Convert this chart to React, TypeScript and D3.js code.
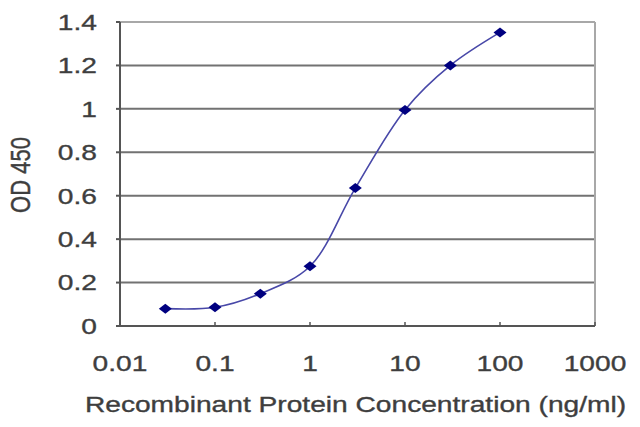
import * as d3 from 'd3';
import * as React from 'react';

// concentration (ng/ml) and OD 450 readings
const concentrations: number[] = [0.03, 0.1, 0.3, 1, 3, 10, 30, 100];
const odValues: number[] = [0.08, 0.086, 0.149, 0.275, 0.635, 0.995, 1.2, 1.352];

const xTicks: number[] = [0.01, 0.1, 1, 10, 100, 1000];
const xTickLabels: string[] = ['0.01', '0.1', '1', '10', '100', '1000'];
const yTicks: number[] = [0, 0.2, 0.4, 0.6, 0.8, 1, 1.2, 1.4];
const yTickLabels: string[] = ['0', '0.2', '0.4', '0.6', '0.8', '1', '1.2', '1.4'];

const width = 640;
const height = 427;
const margin = { top: 22, right: 45, bottom: 101, left: 120 };

// the picture is stretched sideways, so the text is too
const sx = 1.28;
const font = 'Liberation Sans, Arial, sans-serif';
const textColor = '#3e3e3e';

export default function App() {
  const x = d3.scaleLog().domain([0.01, 1000]).range([margin.left, width - margin.right]);
  const y = d3.scaleLinear().domain([0, 1.4]).range([height - margin.bottom, margin.top]);

  const pts: [number, number][] = concentrations.map((c, i) => [x(c), y(odValues[i])]);
  const line = d3.line().curve(d3.curveCatmullRom.alpha(0.5))(pts) || '';

  const x0 = margin.left;
  const x1 = width - margin.right;
  const y0 = height - margin.bottom;
  const y1 = margin.top;

  const txt = { fontFamily: font, fontSize: 22, fill: textColor, stroke: textColor, strokeWidth: 0.35 };

  return (
    <svg width={width} height={height}
      style={{ position: 'absolute', left: 0, top: 0, background: '#fff' }}>
      {/* gridlines */}
      {yTicks.filter(t => t > 0 && t < 1.4).map(t => (
        <line key={'g' + t} x1={x0} x2={x1} y1={y(t)} y2={y(t)} stroke="#727272" strokeWidth={2} />
      ))}
      {/* frame: top and right lighter */}
      <line x1={x0} x2={x1} y1={y1} y2={y1} stroke="#a8a8a8" strokeWidth={2} />
      <line x1={x1} x2={x1} y1={y1} y2={y0} stroke="#a8a8a8" strokeWidth={2} />
      <line x1={x0} x2={x1} y1={y0} y2={y0} stroke="#555" strokeWidth={2} />
      <line x1={x0} x2={x0} y1={y1} y2={y0} stroke="#555" strokeWidth={2} />
      {/* y ticks */}
      {yTicks.map(t => (
        <line key={'yt' + t} x1={x0 - 4} x2={x0} y1={y(t)} y2={y(t)} stroke="#555" strokeWidth={2} />
      ))}
      {/* x ticks */}
      {xTicks.map(t => (
        <line key={'xt' + t} x1={x(t)} x2={x(t)} y1={y0} y2={y0 - 4} stroke="#555" strokeWidth={1.5} />
      ))}

      {/* y tick labels */}
      {yTicks.map((t, i) => (
        <text key={'yl' + t} transform={`translate(97,${y(t) + 7.8}) scale(${sx},1)`}
          textAnchor="end" {...txt}>
          {yTickLabels[i]}
        </text>
      ))}
      {/* x tick labels */}
      {xTicks.map((t, i) => (
        <text key={'xl' + t} transform={`translate(${x(t)},371) scale(${sx},1)`}
          textAnchor="middle" {...txt}>
          {xTickLabels[i]}
        </text>
      ))}

      {/* axis titles */}
      <text transform={`translate(${(x0 + x1) / 2 - 2},412) scale(${sx},1)`}
        textAnchor="middle" {...txt}>
        Recombinant Protein Concentration (ng/ml)
      </text>
      <text transform={`translate(30,175) scale(${sx},1) rotate(-90)`}
        textAnchor="middle" {...txt}>
        OD 450
      </text>

      {/* curve */}
      <path d={line} fill="none" stroke="#4848a8" strokeWidth={1.6} />
      {pts.map(([px, py], i) => (
        <path key={'m' + i}
          d={`M${px - 6.5},${py} L${px},${py - 5} L${px + 6.5},${py} L${px},${py + 5} Z`}
          fill="#000080" />
      ))}
    </svg>
  );
}
